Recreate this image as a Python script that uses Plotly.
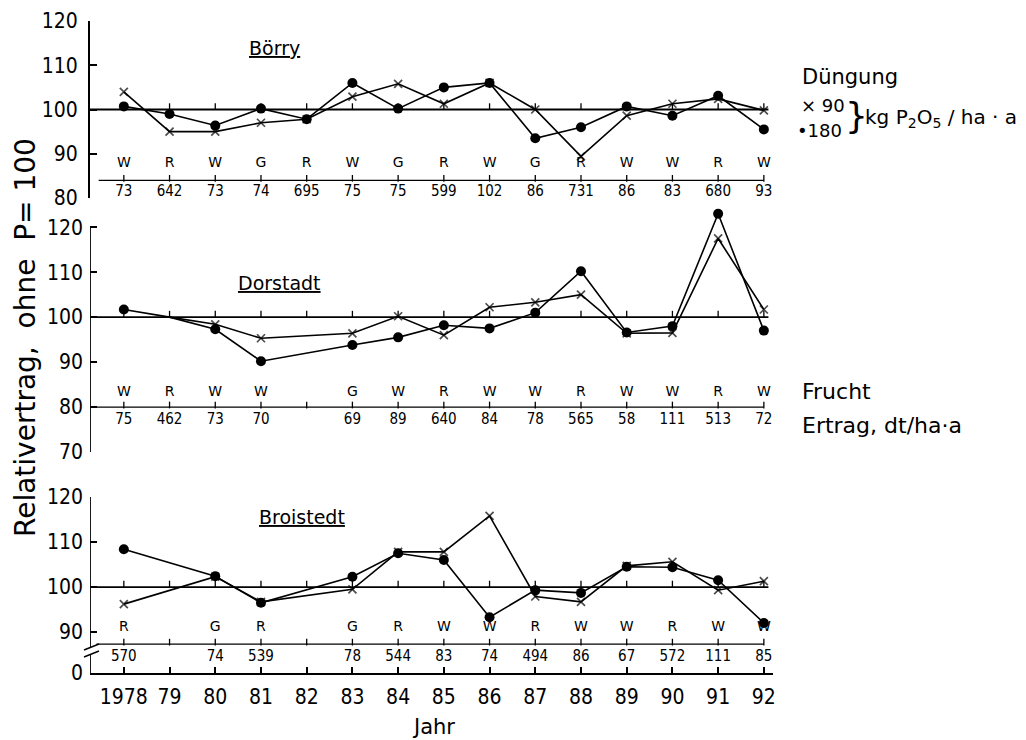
import plotly.graph_objects as go

# ---------------- data ----------------
years = list(range(1978, 1993))
year_labels = ["1978", "79", "80", "81", "82", "83", "84", "85", "86", "87", "88", "89", "90", "91", "92"]

# Börry
borry_90 = [104, 95, 95, 97, 97.8, 102.9, 105.8, 101.3, 106, 100, 89.4, 98.6, 101.3, 102.4, 99.8]
borry_180 = [100.7, 99, 96.4, 100.2, 97.8, 106, 100.2, 105, 106, 93.5, 96, 100.7, 98.6, 103.1, 95.5]
borry_crop = ["W", "R", "W", "G", "R", "W", "G", "R", "W", "G", "R", "W", "W", "R", "W"]
borry_yield = ["73", "642", "73", "74", "695", "75", "75", "599", "102", "86", "731", "86", "83", "680", "93"]

# Dorstadt
dor_90 = [None, 100, 98.4, 95.3, None, 96.4, 100.2, 96, 102.2, 103.3, 105, 96.4, 96.5, 117.5, 101.7]
dor_180 = [101.7, 100, 97.3, 90.2, None, 93.8, 95.5, 98.2, 97.5, 101, 110.2, 96.6, 98, 123, 97]
dor_crop = ["W", "R", "W", "W", "", "G", "W", "R", "W", "W", "R", "W", "W", "R", "W"]
dor_yield = ["75", "462", "73", "70", "", "69", "89", "640", "84", "78", "565", "58", "111", "513", "72"]

# Broistedt
bro_90 = [96.2, None, 102.3, 96.7, None, 99.5, 107.8, 107.8, 115.8, 97.9, 96.7, 104.7, 105.6, 99.3, 101.3]
bro_180 = [108.4, None, 102.4, 96.5, None, 102.3, 107.5, 106, 93.3, 99.3, 98.7, 104.5, 104.4, 101.5, 92]
bro_crop = ["R", "", "G", "R", "", "G", "R", "W", "W", "R", "W", "W", "R", "W", "W"]
bro_yield = ["570", "", "74", "539", "", "78", "544", "83", "74", "494", "86", "67", "572", "111", "85"]

panels = [
    dict(name="Börry", y="y", p90=borry_90, p180=borry_180, crop=borry_crop, yld=borry_yield,
         hide=[], crop_y=87.8, yld_y=81.3, base_y=84.0, base_x0=1977.45,
         title_x=1981.3, title_y=113.8),
    dict(name="Dorstadt", y="y2", p90=dor_90, p180=dor_180, crop=dor_crop, yld=dor_yield,
         hide=[1979], crop_y=83.3, yld_y=77.0, base_y=80.0, base_x0=1977.26,
         title_x=1981.4, title_y=107.6),
    dict(name="Broistedt", y="y3", p90=bro_90, p180=bro_180, crop=bro_crop, yld=bro_yield,
         hide=[], crop_y=90.9, yld_y=84.4, base_y=87.3, base_x0=1977.4,
         title_x=1981.9, title_y=115.6),
]

# ---------------- layout helpers (page pixel coordinates) ----------------
OFF = 8                      # default body margin of the html page
W, H = 1026 - OFF, 740 - OFF  # figure size
PL, PR, PT, PB = 90, 773, 10, 673   # plot area in page pixels
XMIN, XMAX = 1977.26, 1992.2


def xp(px):
    return (px - PL) / (PR - PL)


def yp(px):
    return (PB - px) / (PB - PT)


NUMFONT = "Liberation Sans Narrow, DejaVu Sans Condensed, sans-serif"
TXTFONT = "DejaVu Sans, sans-serif"
SMALLNUM = "DejaVu Sans Condensed, DejaVu Sans, sans-serif"

fig = go.Figure()
shapes = []
annotations = []
line_style = dict(color="black", width=1.6)

for p in panels:
    yref = p["y"]
    sizes180 = [0 if yr in p["hide"] else 10 for yr in years]
    sizes90 = [0 if yr in p["hide"] else 8 for yr in years]
    fig.add_trace(go.Scatter(
        x=years, y=p["p180"], xaxis="x", yaxis=yref, mode="lines+markers",
        connectgaps=True, cliponaxis=False, showlegend=False,
        line=line_style,
        marker=dict(symbol="circle", size=sizes180, color="black", opacity=1,
                    line=dict(width=0))))
    fig.add_trace(go.Scatter(
        x=years, y=p["p90"], xaxis="x", yaxis=yref, mode="lines+markers",
        connectgaps=True, cliponaxis=False, showlegend=False,
        line=line_style,
        marker=dict(symbol="x-thin", size=sizes90, color="black",
                    line=dict(color="black", width=1.7))))
    # crop letters
    fig.add_trace(go.Scatter(
        x=years, y=[p["crop_y"]] * len(years), xaxis="x", yaxis=yref, mode="text",
        text=p["crop"], showlegend=False, cliponaxis=False,
        textfont=dict(family=TXTFONT, size=14, color="black")))
    # yields
    fig.add_trace(go.Scatter(
        x=years, y=[p["yld_y"]] * len(years), xaxis="x", yaxis=yref, mode="text",
        text=p["yld"], showlegend=False, cliponaxis=False,
        textfont=dict(family=SMALLNUM, size=15, color="black")))

    # reference line at 100 with small ticks
    shapes.append(dict(type="line", xref="x", yref=yref, x0=XMIN, x1=1992.1, y0=100, y1=100,
                       line=dict(color="black", width=1.8)))
    # crop baseline
    shapes.append(dict(type="line", xref="x", yref=yref, x0=p["base_x0"], x1=1992.0,
                       y0=p["base_y"], y1=p["base_y"], line=dict(color="black", width=1.3)))
    for yr in years:
        shapes.append(dict(type="line", xref="x", yref=yref, x0=yr, x1=yr, y0=100, y1=101.4,
                           line=dict(color="black", width=1.3)))
        shapes.append(dict(type="line", xref="x", yref=yref, x0=yr, x1=yr,
                           y0=p["base_y"] - 0.3, y1=p["base_y"] + 1.2,
                           line=dict(color="black", width=1.3)))
    # panel title
    annotations.append(dict(xref="x", yref=yref, x=p["title_x"], y=p["title_y"],
                            xanchor="center", yanchor="middle",
                            text="<u>" + p["name"] + "</u>", showarrow=False,
                            font=dict(family=TXTFONT, size=19, color="black")))

# vertical axis lines for panels 2 and 3 (panel 3 broken)
shapes.append(dict(type="line", xref="x", yref="y2", x0=XMIN, x1=XMIN, y0=70, y1=120,
                   line=dict(color="black", width=1.8)))
shapes.append(dict(type="line", xref="x", yref="y3", x0=XMIN, x1=XMIN, y0=86.7, y1=120,
                   line=dict(color="black", width=1.8)))
shapes.append(dict(type="line", xref="x", yref="y3", x0=XMIN, x1=XMIN, y0=80.9, y1=84.9,
                   line=dict(color="black", width=1.8)))
# break marks
for dy in (0, 7):
    shapes.append(dict(type="line", xref="paper", yref="paper",
                       x0=xp(84), y0=yp(650 + dy), x1=xp(99), y1=yp(644 + dy),
                       line=dict(color="black", width=1.5)))


def note(text, px, py, size, xanchor="left", **kw):
    return dict(xref="paper", yref="paper", x=xp(px), y=yp(py), text=text, showarrow=False,
                xanchor=xanchor, yanchor="middle",
                font=dict(family=TXTFONT, size=size, color="black"), **kw)


annotations += [
    note("Relativertrag,  ohne  P= 100", 25, 338, 28, xanchor="center", textangle=-90),
    note("Jahr", 433, 727, 21, xanchor="center"),
    note("Düngung", 800, 77, 21),
    note("× 90", 799, 105, 18),
    note("•180", 795, 130, 18),
    note("}", 843, 115, 36),
    note("kg P<sub>2</sub>O<sub>5</sub> / ha · a", 863, 118, 20),
    note("Frucht", 800, 392, 22),
    note("Ertrag, dt/ha·a", 800, 425, 22),
]

yaxis_common = dict(anchor="x", ticks="inside", ticklen=7, tickwidth=1.6, tickcolor="black",
                    showgrid=False, zeroline=False, ticklabelstandoff=6, automargin=False,
                    ticklabeloverflow="allow",
                    tickfont=dict(family=NUMFONT, size=21, color="black"))

fig.update_layout(
    template="none",
    width=W, height=H,
    margin=dict(l=PL - OFF, r=W - (PR - OFF), t=PT - OFF, b=H - (PB - OFF), pad=0,
                autoexpand=False),
    plot_bgcolor="white", paper_bgcolor="white",
    showlegend=False,
    xaxis=dict(range=[XMIN, XMAX], anchor="y3", tickvals=years, ticktext=year_labels,
               ticks="inside", ticklen=6, tickwidth=1.5, tickcolor="black",
               showline=True, linecolor="black", linewidth=1.8, automargin=False,
               showgrid=False, zeroline=False, ticklabelstandoff=4, ticklabeloverflow="allow",
               tickfont=dict(family=NUMFONT, size=21, color="black")),
    yaxis=dict(range=[80, 120], domain=[yp(198), yp(21)], tickvals=[80, 90, 100, 110, 120],
               showline=True, linecolor="black", linewidth=1.8, **yaxis_common),
    yaxis2=dict(range=[70, 124.5], domain=[yp(452), yp(207)],
                tickvals=[70, 80, 90, 100, 110, 120], showline=False, **yaxis_common),
    yaxis3=dict(range=[80.9, 120], domain=[0, yp(497)],
                tickvals=[80.9, 90, 100, 110, 120], ticktext=["0", "90", "100", "110", "120"],
                showline=False, **yaxis_common),
    shapes=shapes,
    annotations=annotations,
)

fig.write_html("out.html")
